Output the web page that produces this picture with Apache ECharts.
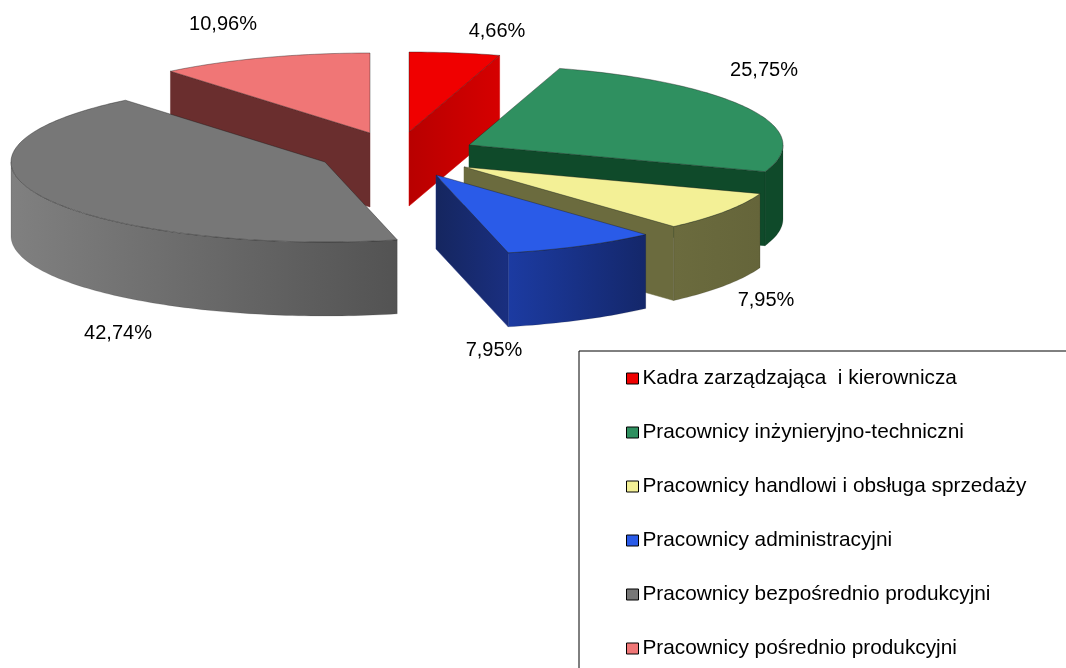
<!DOCTYPE html>
<html>
<head>
<meta charset="utf-8">
<style>html,body{margin:0;padding:0;background:#fff}#c{width:1066px;height:668px}</style>
<script src="https://cdn.jsdelivr.net/npm/echarts@6/dist/echarts.min.js"></script>
</head>
<body>
<div id="c"></div>
<script>
const categories = [
  'Kadra zarządzająca  i kierownicza',
  'Pracownicy inżynieryjno-techniczni',
  'Pracownicy handlowi i obsługa sprzedaży',
  'Pracownicy administracyjni',
  'Pracownicy bezpośrednio produkcyjni',
  'Pracownicy pośrednio produkcyjni'
];
const values = [4.66, 25.75, 7.95, 7.95, 42.74, 10.96];

// Styles and layout, separate from the data
const topColors = ['#f00000', '#2f9060', '#f3f096', '#2a5be8', '#777777', '#f07676'];
const radialWall = [['#b80000', '#d60000'], ['#0f4a2a', '#0f4a2a'], ['#6b6b3e', '#6b6b3e'], ['#15265f', '#1a2f80'], ['#666', '#666'], ['#6a2e2e', '#6a2e2e']];
const outerWall = [['#b00', '#b00'], ['#0f4a2a', '#0f4a2a'], ['#6b6b3e', '#65653a'], ['#1c3ba2', '#14276a'], ['#808080', '#535353'], ['#6a2e2e', '#6a2e2e']];
const explode = [[14, -20], [74, -7], [69, 15], [41, 23], [-70, 10], [-25, -19]];
const labelPos = [[497, 31], [764, 70], [766, 300], [494, 350], [118, 333], [223, 24]];
const zOrder = [2, 3, 4, 5, 6, 1];
const CX = 395, CY = 152, RX = 314, RY = 80, DEPTH = 74;
const FONT = '"Liberation Sans", Arial, sans-serif';

const total = values.reduce((a, b) => a + b, 0);
const bounds = [0];
values.forEach((v) => bounds.push(bounds[bounds.length - 1] + v / total * Math.PI * 2));

function pt(ax, ay, a, drop) {
  return [ax + RX * Math.sin(a), ay - RY * Math.cos(a) + (drop || 0)];
}
function arc(ax, ay, a0, a1, drop) {
  const n = Math.max(2, Math.ceil((a1 - a0) / 0.02));
  const out = [];
  for (let i = 0; i <= n; i++) out.push(pt(ax, ay, a0 + (a1 - a0) * i / n, drop));
  return out;
}
function hGrad(c) {
  return {type: 'linear', x: 0, y: 0, x2: 1, y2: 0, colorStops: [{offset: 0, color: c[0]}, {offset: 1, color: c[1]}]};
}
function renderSlice(i) {
  return function () {
    const a0 = bounds[i], a1 = bounds[i + 1];
    const ax = CX + explode[i][0], ay = CY + explode[i][1];
    const kids = [];
    const edge = 'rgba(20,20,20,0.55)';
    const radial = (a) => {
      const e = pt(ax, ay, a);
      kids.push({type: 'polygon', shape: {points: [[ax, ay], e, [e[0], e[1] + DEPTH], [ax, ay + DEPTH]]},
        style: {fill: hGrad(radialWall[i]), stroke: radialWall[i][1], lineWidth: 0.5}});
    };
    if (Math.sin(a0) < -1e-6) radial(a0);
    if (Math.sin(a1) > 1e-6) radial(a1);
    const lo = Math.max(a0, Math.PI / 2), hi = Math.min(a1, Math.PI * 1.5);
    if (hi > lo) {
      const upper = arc(ax, ay, lo, hi, 0), lower = arc(ax, ay, lo, hi, DEPTH).reverse();
      kids.push({type: 'polygon', shape: {points: upper.concat(lower)},
        style: {fill: hGrad(outerWall[i]), stroke: 'rgba(30,30,30,0.3)', lineWidth: 0.5}});
    }
    kids.push({type: 'polygon', shape: {points: [[ax, ay]].concat(arc(ax, ay, a0, a1, 0))},
      style: {fill: topColors[i], stroke: edge, lineWidth: 0.7}});
    const text = values[i].toFixed(2).replace('.', ',') + '%';
    kids.push({type: 'text', x: labelPos[i][0], y: labelPos[i][1],
      style: {text: text, fill: '#000', font: '20px ' + FONT, align: 'center', verticalAlign: 'middle'}});
    return {type: 'group', children: kids};
  };
}

const chart = echarts.init(document.getElementById('c'), null, {renderer: 'canvas'});
chart.setOption({
  animation: false,
  backgroundColor: '#fff',
  legend: {
    orient: 'vertical', left: 579, top: 351, width: 520, height: 320,
    padding: [17, 60, 40, 47],
    backgroundColor: '#fff', borderColor: '#000', borderWidth: 1,
    itemWidth: 12, itemHeight: 11, itemGap: 33,
    icon: 'rect',
    itemStyle: {borderColor: '#000', borderWidth: 1},
    selectedMode: false,
    data: categories,
    textStyle: {color: '#000', fontFamily: FONT, fontSize: 20.8, lineHeight: 20, padding: [0, 0, 0, -1]}
  },
  series: categories.map((name, i) => ({
    type: 'custom', name: name, coordinateSystem: 'none', silent: true,
    z: zOrder[i],
    itemStyle: {color: topColors[i]},
    data: [[values[i]]],
    renderItem: renderSlice(i)
  }))
});
</script>
</body>
</html>
